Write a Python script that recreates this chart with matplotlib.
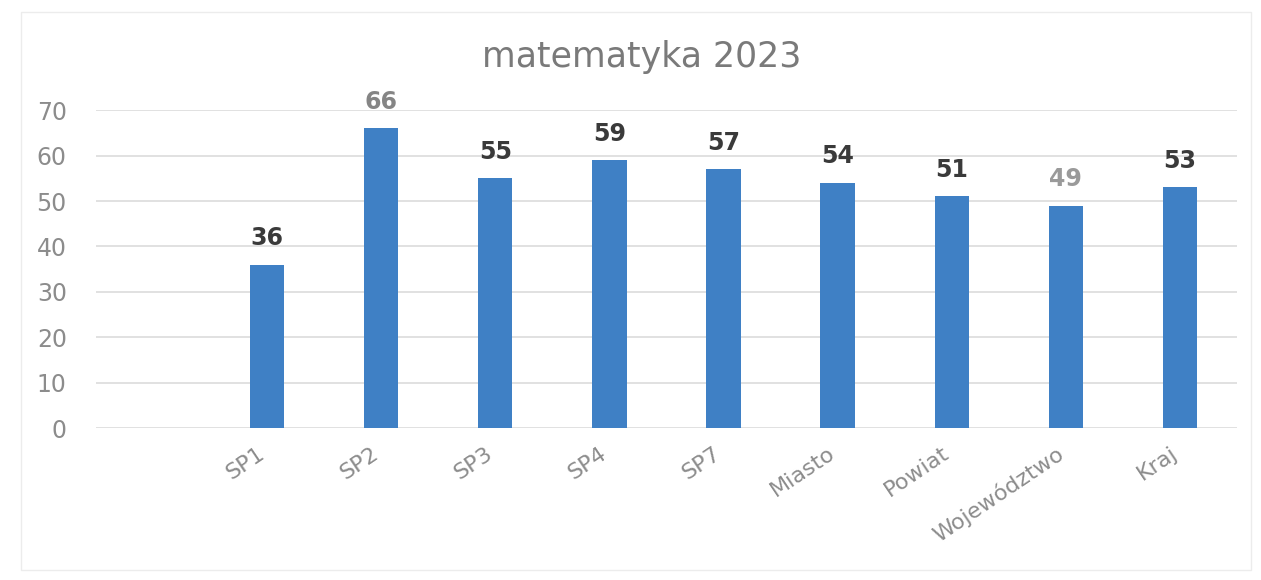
import matplotlib
matplotlib.use("Agg")
import matplotlib.pyplot as plt
import matplotlib.transforms as mtransforms
from matplotlib.patches import Rectangle

categories = ["", "SP1", "SP2", "SP3", "SP4", "SP7", "Miasto", "Powiat", "Województwo", "Kraj"]
values = [None, 36, 66, 55, 59, 57, 54, 51, 49, 53]
label_colors = [None, "#3a3a3a", "#858585", "#3a3a3a", "#3a3a3a", "#3a3a3a",
                "#3a3a3a", "#3a3a3a", "#9a9a9a", "#3a3a3a"]
yticks = [0, 10, 20, 30, 40, 50, 60, 70]

plt.rcParams["font.family"] = ["DejaVu Sans"]

fig = plt.figure(figsize=(12.61, 5.8), dpi=100)
ax = fig.add_axes([0.0761, 0.262, 0.9048, 0.548])

xs = [i for i, v in enumerate(values) if v is not None]
hs = [v for v in values if v is not None]
ax.bar(xs, hs, width=0.30, color="#3f80c5", zorder=3)

for x, h in zip(xs, hs):
    ax.text(x, h + 4.3, str(h), ha="center", va="baseline", fontsize=17,
            fontweight="bold", color=label_colors[x], clip_on=False)

ax.set_xlim(-0.5, len(categories) - 0.5)
ax.set_ylim(0, 70)
ax.set_yticks(yticks)
ax.yaxis.grid(True, color="#dcdcdc", linewidth=1.2, zorder=0)
ax.set_xticks(range(len(categories)))
ax.set_xticklabels(categories, rotation=34, ha="right", va="top",
                   rotation_mode="anchor", fontsize=16, color="#8c8c8c")
ax.tick_params(axis="x", length=0, pad=11)
ax.tick_params(axis="y", length=0, pad=21, labelsize=17, labelcolor="#8c8c8c")
for s in ax.spines.values():
    s.set_visible(False)

# shift category labels a little left so they end under their bars
offset = mtransforms.ScaledTranslation(-0.10, 0, fig.dpi_scale_trans)
for lbl in ax.get_xticklabels():
    lbl.set_transform(lbl.get_transform() + offset)

fig.text(0.509, 0.902, "matematyka 2023", ha="center", va="center",
         fontsize=25, color="#7a7a7a")

fig.patches.append(Rectangle((0.017, 0.018), 0.975, 0.962, transform=fig.transFigure,
                             fill=False, edgecolor="#ececec", linewidth=1.0))

fig.savefig("out.png", dpi=100)
